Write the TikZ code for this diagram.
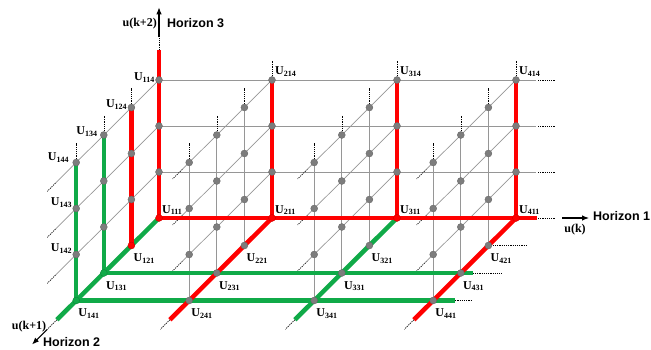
\documentclass[tikz,border=0pt]{standalone}
\usepackage{fontspec}
\setmainfont{Liberation Serif}
\newfontfamily\hsans{Liberation Sans}
\usetikzlibrary{arrows.meta,calc}
\definecolor{pathred}{RGB}{255,0,0}
\definecolor{pathgreen}{RGB}{16,170,72}
\definecolor{gridgray}{RGB}{150,150,150}
\definecolor{dotgray}{RGB}{125,125,125}
\begin{document}
\begin{tikzpicture}[x=1pt,y=-1pt,
  gridline/.style={draw=gridgray,line width=0.7pt},
  extline/.style={draw=black,line width=0.6pt,dash pattern=on 1.2pt off 1pt},
  redpath/.style={draw=pathred,line width=4.5pt},
  greenpath/.style={draw=pathgreen,line width=4.5pt},
  dotnode/.style={circle,line width=0.3pt,minimum size=7pt,inner sep=0pt},
  ulabel/.style={font=\bfseries\fontsize{12}{14}\selectfont,inner sep=0pt},
  axisarrow/.style={draw=black,line width=1.1pt,-{Latex[length=7pt,width=5.5pt]}},
  axisname/.style={font=\hsans\bfseries\fontsize{12.5}{15}\selectfont,inner sep=0pt},
  axisvar/.style={font=\bfseries\fontsize{12}{14}\selectfont,inner sep=0pt},
]
\useasboundingbox (0,0) rectangle (651,350);
% grid points
\foreach \i/\X in {1/159,2/272,3/397,4/516}{
 \foreach \j in {1,2,3,4}{
  \foreach \l in {1,2,3,4}{
   \coordinate (p\i\j\l) at ({\X-27.6*(\j-1)},{218-46*(\l-1)+27.5*(\j-1)});
  }}}
% extension coordinates
\foreach \i in {1,2,3,4}{
  \coordinate (ds\i1) at ($(p\i41)!-0.7!(p\i31)$);
  \coordinate (de\i1) at ($(p\i41)!-1.05!(p\i31)$);
  \foreach \j in {1,2,3,4}{
    \coordinate (vs\i\j) at ($(p\i\j4)!-0.08!(p\i\j3)$);
    \coordinate (vt\i\j) at ($(p\i\j4)!-0.42!(p\i\j3)$);
  }
}
\foreach \l in {2,3,4}{
  \coordinate (ds1\l) at ($(p14\l)!-0.75!(p13\l)$);
  \coordinate (de1\l) at ($(p14\l)!-1.05!(p13\l)$);
  \foreach \i in {2,3,4}{
    \coordinate (ds\i\l) at ($(p\i4\l)!-0.25!(p\i3\l)$);
    \coordinate (de\i\l) at ($(p\i4\l)!-0.6!(p\i3\l)$);
  }
  \coordinate (hs\l) at ($(p41\l)+(20,0)$);
  \coordinate (hx\l) at ($(p41\l)+(22,0)$);
  \coordinate (he\l) at ($(p41\l)+(39,0)$);
}
\coordinate (hs1) at ($(p411)+(21,0)$);
\coordinate (hx1) at ($(p411)+(22,0)$);
\coordinate (he1) at ($(p411)+(39,0)$);
\coordinate (h2e) at ($(p421)+(38,0)$);
\coordinate (h3s) at ($(p431)+(12,0)$);
\coordinate (h3e) at ($(p431)+(41,0)$);
\coordinate (h4s) at ($(p441)+(22,0)$);
\coordinate (h4e) at ($(p441)+(39,0)$);
\coordinate (zs) at ($(p114)!-0.65!(p113)$);
\coordinate (ze) at ($(p114)!-0.93!(p113)$);
\coordinate (zt) at ($(p114)!-1.58!(p113)$);
\coordinate (xa) at ($(p411)+(46,0)$);
\coordinate (xb) at ($(p411)+(73,0)$);
\coordinate (yb) at ($(p141)!-1.6!(p131)$);

% thin grid lines
\foreach \l in {2,3,4}{
  \draw[gridline] (p11\l) -- (hs\l);
  \draw[extline] (hx\l) -- (he\l);
  \foreach \i in {1,2,3,4}{
    \draw[gridline] (p\i1\l) -- (ds\i\l);
    \draw[extline] (ds\i\l) -- (de\i\l);
  }
}
\foreach \i in {2,3,4}{\foreach \j in {2,3,4}{
  \draw[gridline] (p\i\j1) -- (p\i\j4);
}}
% dotted extensions
\foreach \i in {1,2,3,4}{\foreach \j in {1,2,3,4}{
  \ifnum\i\j=11 \else \draw[extline] (vs\i\j) -- (vt\i\j);\fi
}}
\foreach \i in {1,2,3,4}{\draw[extline] (ds\i1) -- (de\i1);}
\draw[extline] (hx1) -- (he1);
\draw[extline] (p421) -- (h2e);
\draw[extline] (h3s) -- (h3e);
\draw[extline] (h4s) -- (h4e);
\draw[extline] (zs) -- (ze);

% thick paths
\draw[greenpath] (p131) -- (p134);
\draw[greenpath] (p141) -- (p144);
\draw[greenpath] (p131) -- (h3s);
\draw[greenpath] (p141) -- (h4s);
\draw[greenpath] (p111) -- (ds11);
\draw[greenpath] (p311) -- (ds31);
\draw[redpath] (p111) -- (zs);
\draw[redpath] (p121) -- (p124);
\foreach \i in {2,3,4}{\draw[redpath] (p\i11) -- (p\i14);}
\draw[redpath] (p111) -- (hs1);
\draw[redpath] (p211) -- (ds21);
\draw[redpath] (p411) -- (ds41);

% dots
\foreach \i in {1,2,3,4}{\foreach \j in {1,2,3,4}{\foreach \l in {1,2,3,4}{
  \def\dfill{dotgray}\def\ddraw{dotgray!80!black}
  \ifnum\l=1
    \ifnum\j=1 \def\dfill{pathred}\def\ddraw{pathred!75!black}\fi
    \ifnum\i\j=12 \def\dfill{pathred}\def\ddraw{pathred!75!black}\fi
    \ifnum\i\j=13 \def\dfill{pathgreen}\def\ddraw{pathgreen!75!black}\fi
    \ifnum\i\j=14 \def\dfill{pathgreen}\def\ddraw{pathgreen!75!black}\fi
  \fi
  \node[dotnode,fill=\dfill,draw=\ddraw] (d\i\j\l) at (p\i\j\l) {};
}}}

% axes
\draw[axisarrow] (ze) -- (zt);
\draw[axisarrow] (xa) -- (xb);
\draw[axisarrow] (de11) -- (yb);
\node[axisvar,anchor=east] (uk2) at (157,24) {u(k+2)};
\node[axisname,anchor=west] (hz3) at (167,23) {Horizon 3};
\node[axisvar] (uk) at (575,230) {u(k)};
\node[axisname,anchor=west] (hz1) at (593,216) {Horizon 1};
\node[axisvar] (uk1) at (29,327) {u(k+1)};
\node[axisname,anchor=west] (hz2) at (43,342) {Horizon 2};

% labels: left side
\node[ulabel,anchor=base east] (u114) at ($(p114)+(-4,1)$) {U\textsubscript{114}};
\node[ulabel,anchor=base east] (u124) at ($(p124)+(-4,0)$) {U\textsubscript{124}};
\node[ulabel,anchor=base east] (u134) at ($(p134)+(-6,0)$) {U\textsubscript{134}};
\node[ulabel,anchor=base east] (u144) at ($(p144)+(-7,-2)$) {U\textsubscript{144}};
\node[ulabel,anchor=base east] (u143) at ($(p143)+(-4,-3)$) {U\textsubscript{143}};
\node[ulabel,anchor=base east] (u142) at ($(p142)+(-4,-3)$) {U\textsubscript{142}};
% labels: right-above
\foreach \n in {111,211,311,411,214,314,414}{
  \node[ulabel,anchor=base west] (u\n) at ($(p\n)+(3,-5)$) {U\textsubscript{\n}};
}
% labels: right-below
\foreach \n in {121,131,141,221,231,241,321,331,341,421,431,441}{
  \node[ulabel,anchor=base west] (u\n) at ($(p\n)+(2,16)$) {U\textsubscript{\n}};
}
\end{tikzpicture}
\end{document}
